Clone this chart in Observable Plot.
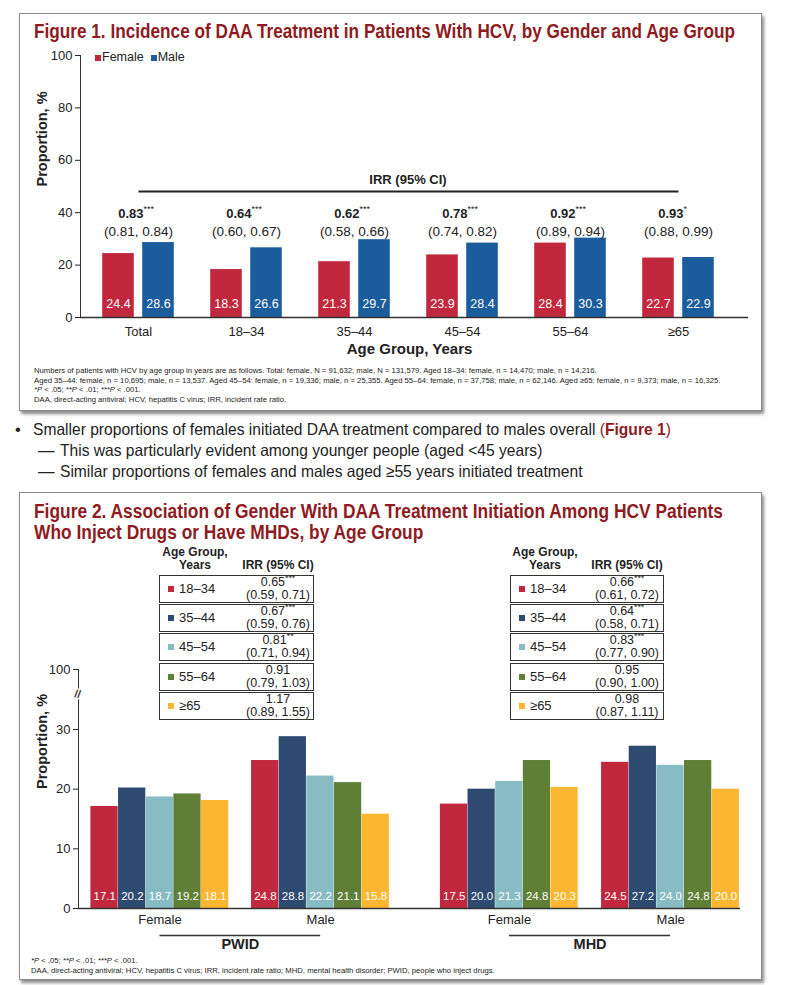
<!DOCTYPE html>
<html><head><meta charset="utf-8">
<script src="https://cdn.jsdelivr.net/npm/d3@7"></script>
<script src="https://cdn.jsdelivr.net/npm/@observablehq/plot@0.6"></script>
<style>
body{margin:0;background:#fff;width:787px;height:985px;position:relative;overflow:hidden;font-family:"Liberation Sans",Arial,sans-serif;color:#222;}
.box{position:absolute;border:1px solid #8a8a8a;box-shadow:2px 3px 3px rgba(0,0,0,0.45);background:#fff;}
.abs{position:absolute;white-space:nowrap;}
.title{color:#8e1b22;font-weight:bold;font-size:20px;line-height:21px;transform-origin:0 50%;}
.foot{font-size:7.7px;line-height:9.6px;color:#222;}
.bul{font-size:16.5px;line-height:21px;color:#222;transform-origin:0 50%;}
.tbl{font-size:12px;color:#222;}
.row{position:absolute;border:1.3px solid #333;box-sizing:border-box;}
.sq{display:inline-block;width:6px;height:6px;}
sup{font-size:70%;line-height:0;}
#fig1,#fig2{position:absolute;left:0;}
</style></head>
<body>
<div class="box" style="left:19px;top:13px;width:741px;height:396px"></div>
<div class="box" style="left:19px;top:492px;width:741px;height:486px"></div>

<div id="t1" class="abs title" style="left:34px;top:21px">Figure 1. Incidence of DAA Treatment in Patients With HCV, by Gender and Age Group</div>
<div id="fig1" style="top:0"></div>
<div id="legend1" class="abs" style="left:95px;top:50px;font-size:12.5px"></div>
<div id="irrHead" class="abs" style="font-weight:bold;font-size:13px;top:172px"></div>
<div class="abs foot" style="left:34px;top:366px">Numbers of patients with HCV by age group in years are as follows. Total: female, N = 91,632; male, N = 131,579. Aged 18–34: female, n = 14,470; male, n = 14,216.<br>Aged 35–44: female, n = 10,695; male, n = 13,537. Aged 45–54: female, n = 19,336; male, n = 25,355. Aged 55–64: female, n = 37,758; male, n = 62,146. Aged ≥65: female, n = 9,373; male, n = 16,325.<br><i>*P</i> &lt; .05; <i>**P</i> &lt; .01; <i>***P</i> &lt; .001.<br>DAA, direct-acting antiviral; HCV, hepatitis C virus; IRR, incident rate ratio.</div>

<div class="abs bul" style="left:15px;top:419px">•</div>
<div class="abs bul b" style="left:33px;top:419px">Smaller proportions of females initiated DAA treatment compared to males overall <span style="color:#8e1b22">(<b>Figure 1</b>)</span></div>
<div class="abs bul" style="left:38px;top:440px">—</div>
<div class="abs bul b" style="left:60px;top:440px">This was particularly evident among younger people (aged &lt;45 years)</div>
<div class="abs bul" style="left:38px;top:461px">—</div>
<div class="abs bul b" style="left:60px;top:461px">Similar proportions of females and males aged ≥55 years initiated treatment</div>

<div id="t2a" class="abs title" style="left:34px;top:501px">Figure 2. Association of Gender With DAA Treatment Initiation Among HCV Patients</div>
<div id="t2b" class="abs title" style="left:34px;top:522px">Who Inject Drugs or Have MHDs, by Age Group</div>
<div id="tables"></div>
<div id="fig2" style="top:640px"></div>
<div class="abs foot" style="left:31px;top:956px"><i>*P</i> &lt; .05; <i>**P</i> &lt; .01; <i>***P</i> &lt; .001.<br>DAA, direct-acting antiviral; HCV, hepatitis C virus; IRR, incident rate ratio; MHD, mental health disorder; PWID, people who inject drugs.</div>

<script>
// ---------- Figure 1 data ----------
const fig1Categories = ["Total", "18–34", "35–44", "45–54", "55–64", "≥65"];
const fig1Female = [24.4, 18.3, 21.3, 23.9, 28.4, 22.7];
const fig1Male = [28.6, 26.6, 29.7, 28.4, 30.3, 22.9];
const fig1IRR = ["0.83", "0.64", "0.62", "0.78", "0.92", "0.93"];
const fig1Stars = ["***", "***", "***", "***", "***", "*"];
const fig1CI = ["(0.81, 0.84)", "(0.60, 0.67)", "(0.58, 0.66)", "(0.74, 0.82)", "(0.89, 0.94)", "(0.88, 0.99)"];
const fig1YTicks = [0, 20, 40, 60, 80, 100];
const genders = ["Female", "Male"];

// ---------- Figure 2 data ----------
const ageGroups = ["18–34", "35–44", "45–54", "55–64", "≥65"];
const programs = ["PWID", "MHD"];
const pwidFemale = [17.1, 20.2, 18.7, 19.2, 18.1];
const pwidMale = [24.8, 28.8, 22.2, 21.1, 15.8];
const mhdFemale = [17.5, 20.0, 21.3, 24.8, 20.3];
const mhdMale = [24.5, 27.2, 24.0, 24.8, 20.0];
const pwidIRR = ["0.65", "0.67", "0.81", "0.91", "1.17"];
const pwidStars = ["***", "***", "**", "", ""];
const pwidCI = ["(0.59, 0.71)", "(0.59, 0.76)", "(0.71, 0.94)", "(0.79, 1.03)", "(0.89, 1.55)"];
const mhdIRR = ["0.66", "0.64", "0.83", "0.95", "0.98"];
const mhdStars = ["***", "***", "***", "", ""];
const mhdCI = ["(0.61, 0.72)", "(0.58, 0.71)", "(0.77, 0.90)", "(0.90, 1.00)", "(0.87, 1.11)"];
const fig2YTicks = [0, 10, 20, 30, 100];

// ---------- styles ----------
const FONT = '"Liberation Sans",Arial,sans-serif';
const genderColors = ["#c1283e", "#1b5c9c"];
const ageColors = ["#c1283e", "#2f4a70", "#88bcc4", "#5f7f36", "#fbb731"];

// ---------- Figure 1 ----------
const f1 = [];
fig1Categories.forEach((c, i) => {
  f1.push({cat: c, gender: "Female", v: fig1Female[i]});
  f1.push({cat: c, gender: "Male", v: fig1Male[i]});
});
const irrRows = fig1Categories.map((c, i) => ({cat: c, irr: fig1IRR[i], stars: fig1Stars[i], ci: fig1CI[i]}));
const x1Range = [82.8, 733.2];
const bw1 = (x1Range[1] - x1Range[0]) / fig1Categories.length;
const barW = 32, gap = 8;
const inFar = bw1 / 2 - gap / 2 - barW, inNear = bw1 / 2 + gap / 2;

const plot1 = Plot.plot({
  width: 787, height: 360,
  marginTop: 55, marginBottom: 43, marginLeft: 80, marginRight: 39,
  x: {type: "band", domain: fig1Categories, range: x1Range, padding: 0},
  y: {domain: [0, 100]},
  style: {fontFamily: FONT, fontSize: "13px", color: "#222", background: "transparent", overflow: "visible"},
  marks: [
    Plot.barY(f1.filter(d => d.gender === "Female"), {x: "cat", y: "v", fill: genderColors[0], insetLeft: inFar, insetRight: inNear}),
    Plot.barY(f1.filter(d => d.gender === "Male"), {x: "cat", y: "v", fill: genderColors[1], insetLeft: inNear, insetRight: inFar}),
    Plot.text(f1.filter(d => d.gender === "Female"), {x: "cat", frameAnchor: "bottom", dy: -10, dx: -(gap / 2 + barW / 2), text: d => d.v.toFixed(1), fill: "white", fontSize: 12.5}),
    Plot.text(f1.filter(d => d.gender === "Male"), {x: "cat", frameAnchor: "bottom", dy: -10, dx: (gap / 2 + barW / 2), text: d => d.v.toFixed(1), fill: "white", fontSize: 12.5}),
    Plot.ruleY([0], {stroke: "#333", strokeWidth: 1.6}),
    Plot.frame({anchor: "left", stroke: "#333"}),
    Plot.axisY({ticks: fig1YTicks, tickSize: 5, tickPadding: 3, label: null, fontSize: 13}),
    Plot.axisX({tickSize: 0, tickPadding: 9, label: null, fontSize: 13}),
    Plot.text(["Proportion, %"], {frameAnchor: "left", rotate: -90, dx: -38, fontWeight: "bold", fontSize: 14.5}),
    Plot.text(["Age Group, Years"], {frameAnchor: "bottom", dy: 36, dx: -5, fontWeight: "bold", fontSize: 15}),
    // IRR annotations
    Plot.link([0], {x1: () => fig1Categories[0], x2: () => fig1Categories[fig1Categories.length - 1], y1: () => 100, y2: () => 100, dy: 136, stroke: "#222", strokeWidth: 2.2}),
    Plot.text(irrRows, {x: "cat", frameAnchor: "top", dy: 153, dx: 5, text: "irr", textAnchor: "end", fontWeight: "bold", fontSize: 13}),
    Plot.text(irrRows, {x: "cat", frameAnchor: "top", dy: 150, dx: 5, text: "stars", textAnchor: "start", fontSize: 9}),
    Plot.text(irrRows, {x: "cat", frameAnchor: "top", dy: 171, text: "ci", fontSize: 13.5})
  ]
});
document.getElementById("fig1").append(plot1);

// IRR header centred over the rule
const xs1 = plot1.scale("x");
const irrHead = document.getElementById("irrHead");
irrHead.textContent = "IRR (95% CI)";
{
  const cFirst = xs1.apply(fig1Categories[0]) + xs1.bandwidth / 2;
  const cLast = xs1.apply(fig1Categories[fig1Categories.length - 1]) + xs1.bandwidth / 2;
  irrHead.style.left = ((cFirst + cLast) / 2) + "px";
  irrHead.style.transform = "translateX(-50%)";
}
// legend
document.getElementById("legend1").innerHTML = genders.map((g, i) =>
  `<span class="sq" style="background:${genderColors[i]};margin-right:1px"></span>${g}`).join('<span style="display:inline-block;width:7px"></span>');

// ---------- Figure 2 ----------
const groupStart = [0, 5.81, 12.64, 18.47];   // in bar widths
const groupGender = ["Female", "Male", "Female", "Male"];
const groupProgram = ["PWID", "PWID", "MHD", "MHD"];
const groupValues = [pwidFemale, pwidMale, mhdFemale, mhdMale];
const f2 = [];
groupValues.forEach((vals, g) => vals.forEach((v, a) => f2.push({g, a, age: ageGroups[a], v, x1: groupStart[g] + a, x2: groupStart[g] + a + 1})));
const groupLabels = groupStart.map((s, g) => ({x: s + ageGroups.length / 2, label: groupGender[g]}));
const programLines = programs.map(p => {
  const gs = groupProgram.map((q, g) => q === p ? g : -1).filter(g => g >= 0);
  return {p, x1: groupStart[gs[0]] + ageGroups.length / 2, x2: groupStart[gs[1]] + ageGroups.length / 2};
});

const plot2 = Plot.plot({
  width: 787, height: 320,
  marginTop: 29, marginBottom: 52, marginLeft: 78, marginRight: 47,
  x: {type: "linear", domain: [0, groupStart[3] + ageGroups.length], range: [90.4, 739.3], axis: null},
  y: {type: "linear", domain: [0, 30, 100], range: [268, 89, 29]},
  color: {domain: ageGroups, range: ageColors},
  style: {fontFamily: FONT, fontSize: "13px", color: "#222", background: "transparent", overflow: "visible"},
  marks: [
    Plot.rectY(f2, {x1: "x1", x2: "x2", y1: 0, y2: "v", fill: "age", insetRight: 0.4}),
    Plot.text(f2, {x: d => (d.x1 + d.x2) / 2, frameAnchor: "bottom", dy: -9, text: d => d.v.toFixed(1), fill: "white", fontSize: 11.5}),
    Plot.ruleY([0], {stroke: "#333", strokeWidth: 1.6}),
    Plot.frame({anchor: "left", stroke: "#333"}),
    Plot.axisY({ticks: fig2YTicks, tickSize: 5, tickPadding: 3, label: null, fontSize: 13}),
    Plot.text([72], {y: d => d, frameAnchor: "left", dx: -4, text: () => "//", fontSize: 11, fontWeight: "bold", stroke: "white", strokeWidth: 2.5, fill: "#333", rotate: 10}),
    Plot.text(["Proportion, %"], {frameAnchor: "left", rotate: -90, dx: -36, fontWeight: "bold", fontSize: 14.5}),
    Plot.text(groupLabels, {x: "x", frameAnchor: "bottom", dy: 15, text: "label", fontSize: 13}),
    Plot.ruleY(programLines, {y: () => 0, dy: 27, x1: "x1", x2: "x2", stroke: "#333", strokeWidth: 1.3}),
    Plot.text(programLines, {x: d => (d.x1 + d.x2) / 2, frameAnchor: "bottom", dy: 40, text: "p", fontWeight: "bold", fontSize: 14.5})
  ]
});
document.getElementById("fig2").append(plot2);

// ---------- Figure 2 legend tables ----------
const tables = [
  {left: 159, width: 155, sqX: 9, ageX: 20, irrC: 119, headAgeC: 36, irr: pwidIRR, stars: pwidStars, ci: pwidCI},
  {left: 510, width: 154, sqX: 9, ageX: 20, irrC: 117, headAgeC: 35, irr: mhdIRR, stars: mhdStars, ci: mhdCI}
];
let html = "";
tables.forEach(t => {
  html += `<div class="abs tbl" style="left:${t.left + t.headAgeC}px;top:546px;transform:translateX(-50%);text-align:center;font-weight:bold;line-height:13px">Age Group,<br>Years</div>`;
  html += `<div class="abs tbl" style="left:${t.left + t.irrC}px;top:559px;transform:translateX(-50%);font-weight:bold;line-height:13px">IRR (95% CI)</div>`;
  ageGroups.forEach((a, i) => {
    const top = 575 + i * 29.2;
    html += `<div class="row tbl" style="left:${t.left}px;top:${top}px;width:${t.width}px;height:28px">
      <span class="abs sq" style="left:${t.sqX - 1}px;top:10px;background:${ageColors[i]}"></span>
      <span class="abs" style="left:${t.ageX - 1}px;top:5px;font-size:13px;line-height:16px">${a}</span>
      <span class="abs" style="left:${t.irrC - 1}px;top:0px;transform:translateX(-50%);text-align:center;font-size:12.5px;line-height:13px">${t.irr[i]}<sup>${t.stars[i]}</sup><br>${t.ci[i]}</span>
    </div>`;
  });
});
document.getElementById("tables").innerHTML = html;

// ---------- condense title and bullet text (narrow typeface look) ----------
function fit(el, scale) { el.style.transform = `scaleX(${scale})`; }
function widthOf(el) { return el.getBoundingClientRect().width; }
const t1 = document.getElementById("t1");
fit(t1, 701 / widthOf(t1));
const t2a = document.getElementById("t2a"), t2b = document.getElementById("t2b");
const s2 = 689 / widthOf(t2a);
fit(t2a, s2); fit(t2b, s2);
document.querySelectorAll(".bul.b").forEach(el => fit(el, 0.945));
</script>
</body></html>
